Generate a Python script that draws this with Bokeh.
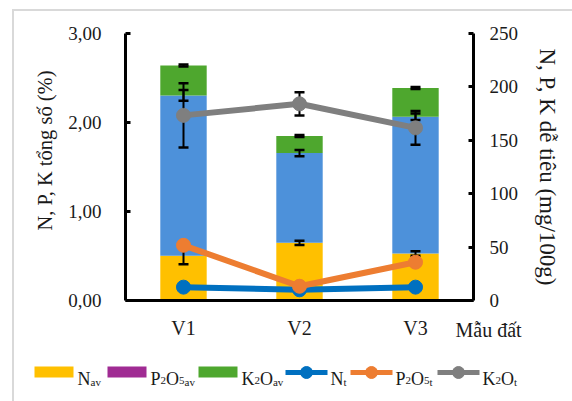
import numpy as np
from bokeh.plotting import figure
from bokeh.layouts import column
from bokeh.core.properties import value
from bokeh.models import (ColumnDataSource, FactorRange, Range1d, LinearAxis,
                          FixedTicker, CustomJSTickFormatter, Title)
from bokeh.embed import file_html
from bokeh.resources import INLINE

# ---- data -------------------------------------------------------------
samples = ["V1", "V2", "V3"]

# available nutrients, mg/100g (stacked bars, right axis)
n_av = [42, 54, 44]
p2o5_av = [150, 84, 128]
k2o_av = [28, 16, 27]
n_av_err = [8, 2, 2]
p2o5_av_err = [5, 3, 3]
k2o_av_err = [1, 1, 1]

# total nutrients, % (lines, left axis)
n_t = [0.15, 0.12, 0.15]
p2o5_t = [0.62, 0.16, 0.43]
k2o_t = [2.08, 2.21, 1.94]
n_t_err = [0.02, 0.02, 0.02]
p2o5_t_err = [0.03, 0.02, 0.03]
k2o_t_err = [0.36, 0.13, 0.19]

left_ticks = [0, 1, 2, 3]
right_ticks = [0, 50, 100, 150, 200, 250]

# ---- style ------------------------------------------------------------
FONT = "Liberation Serif"
TXT = "#1a1a1a"
BORDER = "#D9D9D9"
C_NAV, C_PAV, C_PAV_KEY, C_KAV = "#FFC000", "#4D91DA", "#A02B93", "#4EA72E"
C_NT, C_PT, C_KT = "#0070C0", "#ED7D31", "#7F7F7F"

W, H = 572, 401
OX, OY = 14, 11            # chart box starts inside a thin grey frame line
LEG_TOP = 350              # page y where the legend strip begins
FX0, FX1, FY0, FY1 = 125, 473, 33, 300   # plot frame in page pixels

main_w, main_h = W - OX, LEG_TOP - OY
p = figure(width=main_w, height=main_h, x_range=FactorRange(*samples),
           y_range=Range1d(0, 3), output_backend="svg", toolbar_location=None,
           min_border_left=FX0 - OX, min_border_right=W - FX1,
           min_border_top=FY0 - OY, min_border_bottom=LEG_TOP - FY1)
p.frame_align = False
p.extra_y_ranges = {"right": Range1d(0, 250)}
p.outline_line_color = None
p.xgrid.grid_line_color = None
p.ygrid.grid_line_color = None

# ---- stacked bars -----------------------------------------------------
src = ColumnDataSource(dict(x=samples, n_av=n_av, p2o5_av=p2o5_av, k2o_av=k2o_av))
p.vbar_stack(["n_av", "p2o5_av", "k2o_av"], x="x", width=0.4, source=src,
             color=[C_NAV, C_PAV, C_KAV], line_color=None, y_range_name="right")

tops1 = np.array(n_av, float)
tops2 = tops1 + np.array(p2o5_av, float)
tops3 = tops2 + np.array(k2o_av, float)


def error_bars(centers, errs, rng):
    lo = np.asarray(centers) - np.asarray(errs)
    hi = np.asarray(centers) + np.asarray(errs)
    p.segment(x0=samples, y0=lo, x1=samples, y1=hi, line_color="black",
              line_width=2, y_range_name=rng)
    for v in (lo, hi):
        p.scatter(x=samples, y=v, marker="dash", size=10, line_color="black",
                  line_width=2.5, y_range_name=rng)


error_bars(tops1, n_av_err, "right")
error_bars(tops2, p2o5_av_err, "right")
error_bars(tops3, k2o_av_err, "right")
error_bars(n_t, n_t_err, "default")
error_bars(p2o5_t, p2o5_t_err, "default")
error_bars(k2o_t, k2o_t_err, "default")

# ---- lines ------------------------------------------------------------
for vals, col in ((n_t, C_NT), (p2o5_t, C_PT), (k2o_t, C_KT)):
    p.line(samples, vals, line_color=col, line_width=6)
    p.scatter(samples, vals, size=14, fill_color=col, line_color=col)

# ---- axes -------------------------------------------------------------
def style_axis(ax):
    ax.axis_line_width = 3
    ax.axis_line_color = "black"
    ax.major_tick_line_width = 3
    ax.major_tick_line_color = "black"
    ax.major_tick_in = 5
    ax.major_tick_out = 0
    ax.minor_tick_line_color = None
    ax.major_label_text_font = FONT
    ax.major_label_text_font_size = "19px"
    ax.major_label_text_color = TXT
    ax.axis_label_text_font = FONT
    ax.axis_label_text_font_size = "20px"
    ax.axis_label_text_font_style = "normal"
    ax.axis_label_text_color = TXT


yl = p.yaxis[0]
style_axis(yl)
yl.ticker = FixedTicker(ticks=left_ticks)
yl.formatter = CustomJSTickFormatter(code="return tick.toFixed(2).replace('.', ',');")
yl.major_label_standoff = 24

# left axis title, set a little above the frame's middle
p.add_layout(Title(text="N, P, K tổng số (%)", align="left", offset=FY1 - 230,
                   standoff=15, vertical_align="top", text_font=FONT,
                   text_font_size="20.5px", text_font_style="normal",
                   text_color=TXT), "left")

yr = LinearAxis(y_range_name="right", ticker=FixedTicker(ticks=right_ticks),
                axis_label="N, P, K dễ tiêu (mg/100g)")
style_axis(yr)
yr.axis_label_text_font_size = "23px"
yr.axis_label_orientation = "vertical"
yr.major_label_standoff = 16
yr.axis_label_standoff = 14
p.add_layout(yr, "right")

xa = p.xaxis[0]
style_axis(xa)
xa.major_tick_line_color = None
xa.major_label_text_font_size = "20px"
xa.major_label_standoff = 16

# x-axis title, sitting on the tick-label row to the right of the frame
p.add_layout(Title(text="Mẫu đất", align="left", offset=455 - FX0, standoff=-46,
                   vertical_align="top", text_font=FONT, text_font_size="20px",
                   text_font_style="normal", text_color=TXT), "below")

# ---- legend strip (page-pixel coordinates) ----------------------------
leg = figure(width=main_w, height=H - LEG_TOP, x_range=Range1d(OX, W),
             y_range=Range1d(H, LEG_TOP), output_backend="svg",
             toolbar_location=None, min_border=0,
             x_axis_location=None, y_axis_location=None)
leg.frame_align = False
leg.grid.visible = False
leg.outline_line_color = None

GLYPH_W = {"N": .722, "P": .556, "K": .722, "O": .722, "2": .5, "5": .5,
           "a": .444, "v": .5, "t": .278}
BASE = 378


def text_run(x, pieces):
    for txt, size, shift in pieces:
        leg.text(x=[x], y=[BASE + shift], text=[txt], text_font=value(FONT),
                 text_font_size=f"{size}px", text_color=TXT,
                 text_baseline="alphabetic", text_align="left")
        x += sum(GLYPH_W[c] for c in txt) * size


def label_pieces(base, sub):
    main_sz, sub_sz = 18, 11
    if base == "N":
        out = [("N", main_sz, 0)]
    elif base == "P":
        out = [("P", main_sz, 0), ("2", sub_sz, 2), ("O", main_sz, 0), ("5", sub_sz, 2)]
    else:
        out = [("K", main_sz, 0), ("2", sub_sz, 2), ("O", main_sz, 0)]
    return out + [(sub, sub_sz, 3)]


swatch_items = [(34, C_NAV, "N"), (107, C_PAV_KEY, "P"), (198, C_KAV, "K")]
for x0, col, base in swatch_items:
    leg.quad(left=[x0], right=[x0 + 39], top=[366], bottom=[377],
             fill_color=col, line_color=None)
    text_run(x0 + 43, label_pieces(base, "av"))

line_items = [(285, C_NT, "N"), (350, C_PT, "P"), (437, C_KT, "K")]
for x0, col, base in line_items:
    leg.line([x0, x0 + 42], [372, 372], line_color=col, line_width=5)
    leg.scatter([x0 + 21], [372], size=12, fill_color=col, line_color=col)
    text_run(x0 + 45, label_pieces(base, "t"))

page = column(p, leg, margin=(OY - 2, 0, 0, OX - 2), spacing=0,
              styles={"border-top": f"2px solid {BORDER}",
                      "border-left": f"2px solid {BORDER}"})

open("out.html", "w").write(file_html(page, INLINE))
